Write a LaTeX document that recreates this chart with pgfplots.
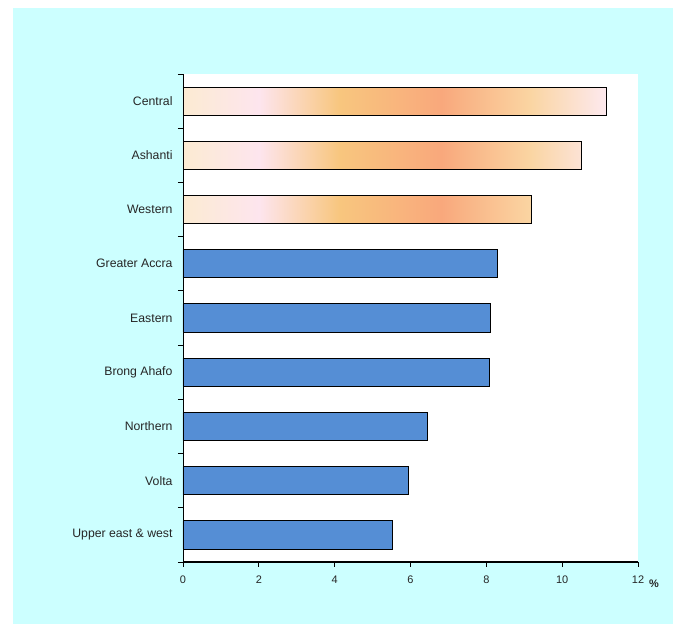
\documentclass[border=0pt]{standalone}
\usepackage{pgfplots}
\pgfplotsset{compat=1.18}
\usepackage{fontspec}
\setmainfont{Liberation Sans}

\definecolor{bgcyan}{HTML}{CCFFFF}
\definecolor{barblue}{HTML}{558ED5}
\definecolor{g0}{HTML}{FCEBD2}
\definecolor{g1}{HTML}{FDE5EE}
\definecolor{g2}{HTML}{F8C67E}
\definecolor{g3}{HTML}{F9A87C}
\definecolor{g4}{HTML}{FAD5A2}
\definecolor{g5}{HTML}{FDE9EE}
% the visible part of a shading is its middle 25bp..75bp
\pgfdeclarehorizontalshading{sunset}{100bp}{color(0bp)=(g0); color(25bp)=(g0);
  color(34bp)=(g1); color(43.5bp)=(g2); color(55.5bp)=(g3); color(66bp)=(g4);
  color(75bp)=(g5); color(100bp)=(g5)}

\begin{document}
\begin{tikzpicture}[x=1bp,y=1bp]
  % page and background
  \fill[white] (-183,-62) rectangle (497,562);
  \fill[bgcyan] (-170,-62) rectangle (490,554);
  \begin{axis}[
      at={(0,0)}, anchor=south west,
      scale only axis,
      width=455bp, height=488bp,
      clip=false,
      xmin=0, xmax=12,
      ymin=-0.5, ymax=8.5,
      axis background/.style={fill=white},
      axis lines=left,
      axis line style={-},
      x axis line style={line width=1.6bp},
      y axis line style={line width=0.8bp},
      xtick={0,2,...,12},
      minor xtick={0,2,...,12},
      ytick={0,...,8},
      yticklabels={Upper east \& west, Volta, Northern, Brong Ahafo, Eastern,
                   Greater Accra, Western, Ashanti, Central},
      minor ytick={-0.5,0.5,...,8.5},
      major tick length=0pt,
      minor tick length=5bp,
      tick align=outside,
      tick style={black, line width=0.8bp},
      /pgf/number format/assume math mode=true,
      ticklabel style={text=black!85},
      yticklabel style={font=\fontsize{12.3}{14}\selectfont, xshift=-7bp},
      xticklabel style={font=\fontsize{11}{13}\selectfont, yshift=-10bp},
      bar width=0.52,
      xbar, bar shift=0pt,
    ]
    \addplot[draw=black, line width=0.9bp, fill=barblue] coordinates {
      (5.53,0) (5.95,1) (6.46,2) (8.09,3) (8.11,4) (8.29,5)
    };
    \addplot[draw=black, line width=0.9bp, shading=sunset] coordinates {
      (9.20,6) (10.50,7) (11.16,8)
    };
    \node[font=\fontsize{11}{13}\selectfont\bfseries, text=black!85]
      at (axis cs:12,-0.5) [xshift=16bp, yshift=-22bp] {\%};
  \end{axis}
\end{tikzpicture}
\end{document}
